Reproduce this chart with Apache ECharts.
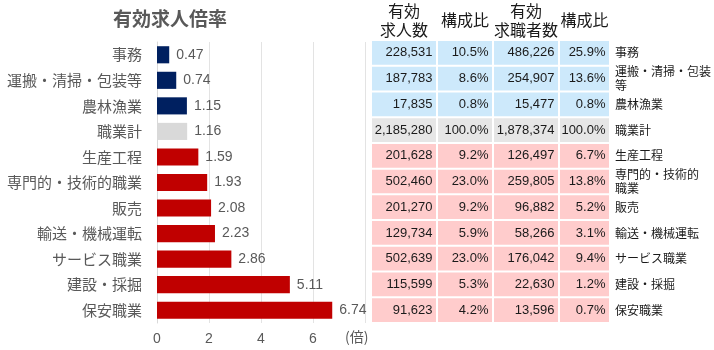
<!DOCTYPE html>
<html><head><meta charset="utf-8">
<script src="https://cdn.jsdelivr.net/npm/echarts@6/dist/echarts.min.js"></script>
<style>html,body{margin:0;padding:0;background:#fff}#c{width:714px;height:350px}</style>
</head><body><div id="c"></div>
<script>
const categories = ['事務','運搬・清掃・包装等','農林漁業','職業計','生産工程','専門的・技術的職業','販売','輸送・機械運転','サービス職業','建設・採掘','保安職業'];
const tableLabels = ['事務','運搬・清掃・包装\n等','農林漁業','職業計','生産工程','専門的・技術的\n職業','販売','輸送・機械運転','サービス職業','建設・採掘','保安職業'];
const ratio = [0.47,0.74,1.15,1.16,1.59,1.93,2.08,2.23,2.86,5.11,6.74];
const rowGroup = ['below','below','below','total','above','above','above','above','above','above','above'];
const jobOffers = [228531,187783,17835,2185280,201628,502460,201270,129734,502639,115599,91623];
const offerShare = [10.5,8.6,0.8,100.0,9.2,23.0,9.2,5.9,23.0,5.3,4.2];
const jobSeekers = [486226,254907,15477,1878374,126497,259805,96882,58266,176042,22630,13596];
const seekerShare = [25.9,13.6,0.8,100.0,6.7,13.8,5.2,3.1,9.4,1.2,0.7];
const tableHeaders = ['有効\n求人数','構成比','有効\n求職者数','構成比'];

const barColor = {below:'#002060', total:'#d9d9d9', above:'#c00000'};
const cellColor = {below:'#cde9fb', total:'#e6e6e6', above:'#ffcccc'};
const LATIN = "'Liberation Sans','Noto Sans CJK JP',sans-serif";
const CJK = "'Noto Sans CJK JP',sans-serif";

const fmtInt = v => v.toLocaleString('en-US');
const fmtPct = v => v.toFixed(1) + '%';

const columns = [
  {vals: jobOffers, fmt: fmtInt, left: 371, width: 66},
  {vals: offerShare, fmt: fmtPct, left: 437, width: 56},
  {vals: jobSeekers, fmt: fmtInt, left: 493, width: 66},
  {vals: seekerShare, fmt: fmtPct, left: 559, width: 54}
];

const grids = [{left:157, width:208, top:42, height:281}];
const xAxes = [{
  gridIndex:0, type:'value', min:0, max:8, interval:2,
  axisLine:{show:false}, axisTick:{show:false},
  splitLine:{lineStyle:{color:'#e3e3e3'}},
  axisLabel:{color:'#595959', fontSize:14, fontFamily:LATIN, margin:9,
    formatter: v => v === 8 ? '' : String(v)},
  name:'(倍)', nameLocation:'end', nameGap:-20,
  nameTextStyle:{color:'#595959', fontSize:14, fontFamily:CJK, verticalAlign:'top', padding:[7,0,0,0]}
}];
const yAxes = [{
  gridIndex:0, type:'category', data:categories, inverse:true,
  axisLine:{lineStyle:{color:'#d9d9d9'}}, axisTick:{show:false},
  axisLabel:{color:'#595959', fontSize:15, fontFamily:CJK, margin:15}
}];
const series = [{
  type:'bar', xAxisIndex:0, yAxisIndex:0, barCategoryGap:'33%',
  data: ratio.map((v,i)=>({value:v, itemStyle:{color:barColor[rowGroup[i]]}})),
  label:{show:true, position:'right', distance:7, color:'#595959', fontSize:14, fontFamily:LATIN,
    formatter: p => p.value.toFixed(2)},
  animation:false
}];

columns.forEach((col, ci) => {
  const gi = ci + 1;
  grids.push({left:col.left, width:col.width, top:40, height:283});
  xAxes.push({
    gridIndex:gi, type:'category', position:'top', data:[tableHeaders[ci]],
    axisLine:{show:false}, axisTick:{show:false}, splitLine:{show:false},
    axisLabel:{color:'#1a1a1a', fontSize:16, fontFamily:CJK, lineHeight:19, verticalAlign:'middle', margin:20, interval:0}
  });
  yAxes.push({
    gridIndex:gi, type:'category', data: ci === 3 ? tableLabels : categories, inverse:true,
    position:'right',
    axisLine:{show:false}, axisTick:{show:false}, splitLine:{show:false},
    axisLabel: ci === 3 ? {show:true, align:'left', margin:5, color:'#1a1a1a', fontSize:12, lineHeight:14, fontFamily:CJK}
                        : {show:false}
  });
  series.push({
    type:'custom', xAxisIndex:gi, yAxisIndex:gi, animation:false,
    data: col.vals.map((v,i)=>[0, i, v]),
    renderItem: (params, api) => {
      const i = api.value(1);
      const c = api.coord([0, i]);
      const s = api.size([1, 1]);
      const x = c[0] - s[0]/2 + 1, y = c[1] - s[1]/2 + 1;
      const w = s[0] - 2, h = s[1] - 2;
      return {type:'group', children:[
        {type:'rect', shape:{x, y, width:w, height:h}, style:{fill:cellColor[rowGroup[i]]}},
        {type:'text', style:{text: col.fmt(api.value(2)), x: x + w - 3.5, y: c[1],
          align:'right', verticalAlign:'middle', fontSize:13, fontFamily:LATIN, fill:'#1a1a1a'}}
      ]};
    }
  });
});

const chart = echarts.init(document.getElementById('c'), null, {renderer:'canvas'});
chart.setOption({
  animation:false,
  title:{text:'有効求人倍率', left:165, top:4, textAlign:'center',
    textStyle:{color:'#595959', fontSize:19, fontWeight:'bold', fontFamily:CJK}},
  grid: grids, xAxis: xAxes, yAxis: yAxes, series
});
</script></body></html>
